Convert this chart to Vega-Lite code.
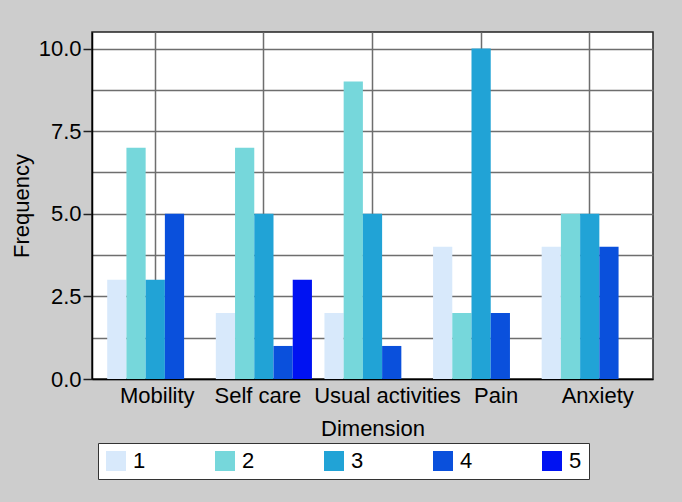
{
  "$schema": "https://vega.github.io/schema/vega-lite/v6.json",
  "width": 561,
  "height": 347,
  "autosize": {"type": "none"},
  "padding": {"left": 92, "top": 32, "right": 29, "bottom": 123},
  "background": "#cdcdcd",
  "config": {
    "font": "Liberation Sans",
    "view": {"stroke": "#222222", "strokeWidth": 1.5, "fill": "white"},
    "axis": {
      "labelFont": "Liberation Sans",
      "titleFont": "Liberation Sans",
      "labelFontSize": 22,
      "titleFontSize": 22,
      "titleFontWeight": "normal",
      "labelColor": "black",
      "titleColor": "black",
      "domainColor": "black",
      "domainWidth": 1.5,
      "gridColor": "#6e6e6e",
      "gridWidth": 1.5,
      "gridOpacity": 1,
      "tickColor": "#222222",
      "tickWidth": 1.5
    }
  },
  "data": {
    "values": [
      {"Dimension": "Mobility", "Level": "1", "Frequency": 3},
      {"Dimension": "Mobility", "Level": "2", "Frequency": 7},
      {"Dimension": "Mobility", "Level": "3", "Frequency": 3},
      {"Dimension": "Mobility", "Level": "4", "Frequency": 5},
      {"Dimension": "Self care", "Level": "1", "Frequency": 2},
      {"Dimension": "Self care", "Level": "2", "Frequency": 7},
      {"Dimension": "Self care", "Level": "3", "Frequency": 5},
      {"Dimension": "Self care", "Level": "4", "Frequency": 1},
      {"Dimension": "Self care", "Level": "5", "Frequency": 3},
      {"Dimension": "Usual activities", "Level": "1", "Frequency": 2},
      {"Dimension": "Usual activities", "Level": "2", "Frequency": 9},
      {"Dimension": "Usual activities", "Level": "3", "Frequency": 5},
      {"Dimension": "Usual activities", "Level": "4", "Frequency": 1},
      {"Dimension": "Pain", "Level": "1", "Frequency": 4},
      {"Dimension": "Pain", "Level": "2", "Frequency": 2},
      {"Dimension": "Pain", "Level": "3", "Frequency": 10},
      {"Dimension": "Pain", "Level": "4", "Frequency": 2},
      {"Dimension": "Anxiety", "Level": "1", "Frequency": 4},
      {"Dimension": "Anxiety", "Level": "2", "Frequency": 5},
      {"Dimension": "Anxiety", "Level": "3", "Frequency": 5},
      {"Dimension": "Anxiety", "Level": "4", "Frequency": 4}
    ]
  },
  "mark": {"type": "bar"},
  "encoding": {
    "x": {
      "field": "Dimension",
      "type": "nominal",
      "sort": ["Mobility", "Self care", "Usual activities", "Pain", "Anxiety"],
      "scale": {"paddingInner": 0.115, "paddingOuter": 0.14},
      "axis": {
        "labelAngle": 0,
        "ticks": false,
        "grid": true,
        "labelPadding": 6,
        "titlePadding": 12,
        "labelOffset": {
          "condition": [
            {"test": "datum.value === 'Mobility'", "value": 2},
            {"test": "datum.value === 'Self care'", "value": -6},
            {"test": "datum.value === 'Usual activities'", "value": 15},
            {"test": "datum.value === 'Pain'", "value": 15},
            {"test": "datum.value === 'Anxiety'", "value": 8}
          ],
          "value": 0
        }
      }
    },
    "xOffset": {
      "field": "Level",
      "type": "nominal",
      "scale": {"domain": ["1", "2", "3", "4", "5"], "paddingInner": 0, "paddingOuter": 0}
    },
    "y": {
      "field": "Frequency",
      "type": "quantitative",
      "scale": {"domain": [0, 10.5], "nice": false, "zero": true},
      "axis": {
        "values": [0, 1.25, 2.5, 3.75, 5, 6.25, 7.5, 8.75, 10],
        "labelExpr": "datum.value % 2.5 === 0 ? format(datum.value, '.1f') : ''",
        "tickSize": 9,
        "tickOpacity": {"condition": {"test": "datum.value % 2.5 !== 0", "value": 0}, "value": 1},
        "labelPadding": 2,
        "titlePadding": 5
      }
    },
    "color": {
      "field": "Level",
      "type": "nominal",
      "scale": {
        "domain": ["1", "2", "3", "4", "5"],
        "range": ["#d8e9fb", "#76d7db", "#21a3d6", "#0a50dc", "#0012f2"]
      },
      "legend": {
        "title": null,
        "orient": "none",
        "direction": "horizontal",
        "columns": 5,
        "legendX": 6,
        "legendY": 411,
        "fillColor": "white",
        "strokeColor": "#333333",
        "padding": 7,
        "symbolType": "square",
        "symbolSize": 400,
        "symbolStrokeWidth": 0,
        "symbolOpacity": 1,
        "labelFont": "Liberation Sans",
        "labelFontSize": 22,
        "labelColor": "black",
        "labelOffset": 6,
        "columnPadding": 68
      }
    }
  }
}
